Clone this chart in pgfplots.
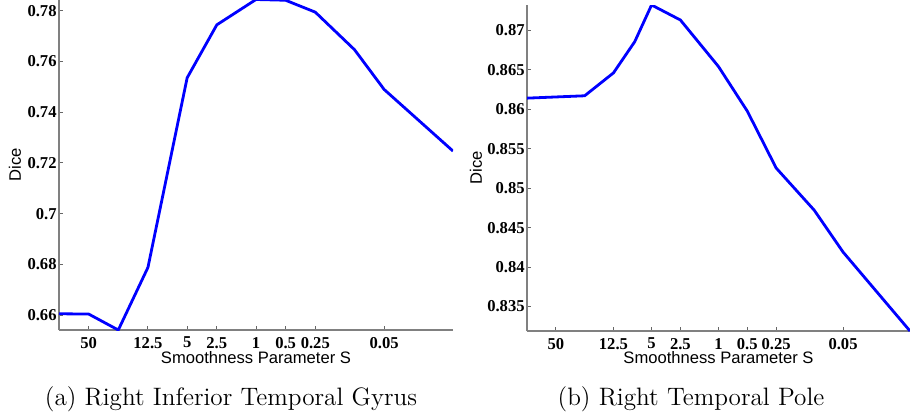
\documentclass[border=0pt]{standalone}
\usepackage{fontspec}
\usepackage{pgfplots}
\pgfplotsset{compat=1.18}
\newfontfamily\tickfont{Liberation Serif}
\newfontfamily\labfont{Liberation Sans}
\begin{document}
\begin{tikzpicture}
\useasboundingbox (0,0) rectangle (455pt,207pt);
\pgfplotsset{
  every axis/.append style={
    scale only axis,
    axis lines=left,
    axis line style={-, draw=black!50, line width=0.7pt},
    tick style={draw=black!60, line width=0.5pt},
    tick align=inside,
    major tick length=2pt,
    xmode=log, x dir=reverse, xmin=0.01, xmax=100,
    xtick={50,12.5,5,2.5,1,0.5,0.25,0.05},
    xticklabels={50,12.5,5,2.5,1,0.5,0.25,0.05},
    minor xtick={},
    log basis x=10,
    /pgf/number format/assume math mode=true,
    ticklabel style={font=\tickfont\bfseries\fontsize{8.3}{9}\selectfont},
    yticklabel style={inner xsep=1pt},
    label style={font=\labfont\fontsize{8.3}{9}\selectfont},
    xlabel={Smoothness Parameter S},
    ylabel={Dice},
  }
}
% (a)
\begin{axis}[
  at={(29.5pt,42pt)}, anchor=south west,
  width=197pt, height=165pt,
  ymin=0.6541, ymax=0.7843,
  ytick={0.66,0.68,0.70,0.72,0.74,0.76,0.78},
  yticklabels={0.66,0.68,0.7,0.72,0.74,0.76,0.78},
  xlabel style={at={([yshift=-14pt]axis description cs:0.5,0)}, anchor=center},
  ylabel style={at={([xshift=-22pt]axis description cs:0,0.5)}, anchor=center},
]
\addplot[blue, line width=1.4pt] coordinates {
(100,0.6605) (50,0.6604) (25,0.6541) (12.5,0.6788) (5,0.7536) (2.5,0.7745)
(1,0.7845) (0.5,0.7842) (0.25,0.7795) (0.1,0.7647) (0.05,0.7490) (0.01,0.7247)
};
\end{axis}
% (b)
\begin{axis}[
  at={(263.5pt,41.5pt)}, anchor=south west,
  width=191.5pt, height=163pt,
  ymin=0.8319, ymax=0.8732,
  ytick={0.835,0.84,0.845,0.85,0.855,0.86,0.865,0.87},
  yticklabels={0.835,0.84,0.845,0.85,0.855,0.86,0.865,0.87},
  xlabel style={at={([yshift=-13.5pt]axis description cs:0.5,0)}, anchor=center},
  ylabel style={at={([xshift=-25.5pt]axis description cs:0,0.5)}, anchor=center},
]
\addplot[blue, line width=1.4pt] coordinates {
(100,0.8614) (25,0.8617) (12.5,0.8646) (7.5,0.86855) (5,0.8732) (2.5,0.8713)
(1,0.8654) (0.5,0.85975) (0.25,0.85255) (0.1,0.8472) (0.05,0.8419) (0.01,0.8319)
};
\end{axis}
\node[anchor=base, font=\fontsize{12.6}{14}\selectfont] at (115.5pt,4.5pt) {(a) Right Inferior Temporal Gyrus};
\node[anchor=base, font=\fontsize{12.6}{14}\selectfont] at (345.5pt,4.5pt) {(b) Right Temporal Pole};
\end{tikzpicture}
\end{document}
